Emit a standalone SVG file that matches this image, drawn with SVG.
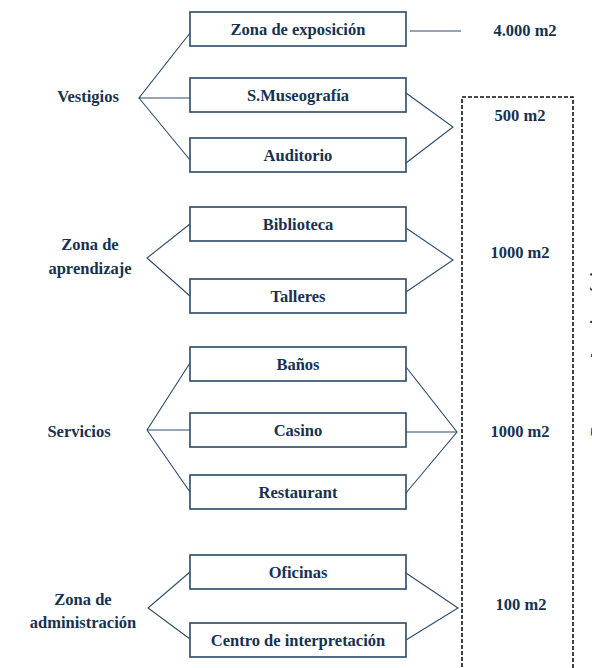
<svg xmlns="http://www.w3.org/2000/svg" width="592" height="668" viewBox="0 0 592 668">
<style>
.bg{fill:#ffffff}
.box{fill:#ffffff;stroke:#2a4866;stroke-width:1.6}
.t{font-family:"Liberation Serif","Times New Roman",serif;font-weight:bold;font-size:16.5px;fill:#16324f;text-anchor:middle;dominant-baseline:central}
.ln{fill:none;stroke:#2b4a6b;stroke-width:1.1}
.dash{fill:none;stroke:#111111;stroke-width:1.6;stroke-dasharray:4 2}
</style>
<rect class="bg" x="0" y="0" width="592" height="668"/>
<g id="connectors">
  <polyline class="ln" points="190,33 139,98 190,98"/>
  <polyline class="ln" points="139,98 190,160"/>
  <polyline class="ln" points="406,93 453,127 406,163"/>
  <line class="ln" x1="410" y1="31" x2="461" y2="31"/>
  <polyline class="ln" points="190,224 147,258 190,296"/>
  <polyline class="ln" points="406,228 453,260 406,292"/>
  <polyline class="ln" points="190,363 147,430 190,492"/>
  <line class="ln" x1="147" y1="430" x2="190" y2="430"/>
  <polyline class="ln" points="406,367 457,432 406,493"/>
  <line class="ln" x1="406" y1="432" x2="457" y2="432"/>
  <polyline class="ln" points="190,572 148,608 190,639"/>
  <polyline class="ln" points="406,573 458,608 406,640"/>
</g>
<g id="area-frame">
  <rect class="dash" x="462" y="97" width="111" height="600"/>
</g>
<g id="n-vestigios"><text class="t" x="88" y="96">Vestigios</text></g>
<g id="n-exposicion"><rect class="box" x="190" y="12" width="216" height="34"/><text class="t" x="298" y="29">Zona de exposición</text></g>
<g id="n-museografia"><rect class="box" x="190" y="78" width="216" height="34"/><text class="t" x="298" y="95">S.Museografía</text></g>
<g id="n-auditorio"><rect class="box" x="190" y="138" width="216" height="34"/><text class="t" x="298" y="155">Auditorio</text></g>
<g id="n-a4000"><text class="t" x="525" y="30">4.000 m2</text></g>
<g id="n-a500"><text class="t" x="520" y="115">500 m2</text></g>
<g id="n-aprendizaje"><text class="t" x="90" y="244">Zona de</text><text class="t" x="90" y="268">aprendizaje</text></g>
<g id="n-biblioteca"><rect class="box" x="190" y="207" width="216" height="34"/><text class="t" x="298" y="224">Biblioteca</text></g>
<g id="n-talleres"><rect class="box" x="190" y="279" width="216" height="34"/><text class="t" x="298" y="296">Talleres</text></g>
<g id="n-a1000a"><text class="t" x="520" y="252">1000 m2</text></g>
<g id="n-servicios"><text class="t" x="79" y="431">Servicios</text></g>
<g id="n-banos"><rect class="box" x="190" y="347" width="216" height="34"/><text class="t" x="298" y="364">Baños</text></g>
<g id="n-casino"><rect class="box" x="190" y="413" width="216" height="34"/><text class="t" x="298" y="430">Casino</text></g>
<g id="n-restaurant"><rect class="box" x="190" y="475" width="216" height="34"/><text class="t" x="298" y="492">Restaurant</text></g>
<g id="n-a1000b"><text class="t" x="520" y="431">1000 m2</text></g>
<g id="n-administracion"><text class="t" x="83" y="599">Zona de</text><text class="t" x="83" y="622">administración</text></g>
<g id="n-oficinas"><rect class="box" x="190" y="555" width="216" height="34"/><text class="t" x="298" y="572">Oficinas</text></g>
<g id="n-centro"><rect class="box" x="190" y="623" width="216" height="34"/><text class="t" x="298" y="640">Centro de interpretación</text></g>
<g id="n-a100"><text class="t" x="521" y="604">100 m2</text></g>
<g id="n-side-title"><text x="602" y="436" transform="rotate(-90 602 436)" style="font-family:'Liberation Serif','Times New Roman',serif;font-weight:bold;font-size:16.5px;fill:#16324f">Programa Arquitectónico</text></g>
</svg>
